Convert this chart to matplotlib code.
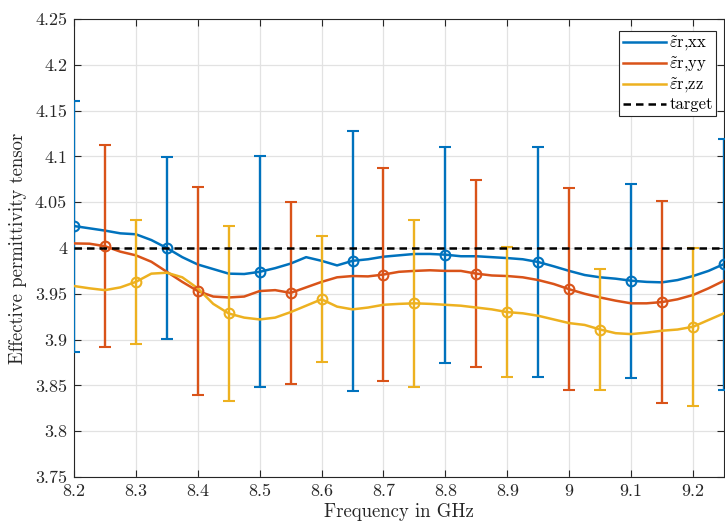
import numpy as np
import matplotlib
matplotlib.use("Agg")
import matplotlib.pyplot as plt
from matplotlib.ticker import FixedLocator, FixedFormatter

plt.rcParams['font.family'] = 'serif'
plt.rcParams['font.serif'] = ['cmr10', 'DejaVu Serif']
plt.rcParams['mathtext.fontset'] = 'cm'
plt.rcParams['axes.formatter.use_mathtext'] = True

# ---- data ----
freq = [8.2, 8.225, 8.25, 8.275, 8.3, 8.325, 8.35, 8.375, 8.4, 8.425, 8.45, 8.475,
        8.5, 8.525, 8.55, 8.575, 8.6, 8.625, 8.65, 8.675, 8.7, 8.725, 8.75, 8.775,
        8.8, 8.825, 8.85, 8.875, 8.9, 8.925, 8.95, 8.975, 9.0, 9.025, 9.05, 9.075,
        9.1, 9.125, 9.15, 9.175, 9.2, 9.225, 9.25]

eps_xx = [4.024, 4.0215, 4.019, 4.016, 4.015, 4.0087, 4.000, 3.990, 3.982, 3.977,
          3.972, 3.9716, 3.974, 3.978, 3.983, 3.990, 3.986, 3.981, 3.986, 3.9877,
          3.9905, 3.992, 3.9935, 3.9935, 3.9927, 3.991, 3.991, 3.990, 3.989, 3.9877,
          3.9847, 3.980, 3.975, 3.9705, 3.968, 3.9665, 3.9643, 3.963, 3.9625, 3.965,
          3.9694, 3.975, 3.9825]
eps_yy = [4.005, 4.0047, 4.002, 3.996, 3.992, 3.985, 3.974, 3.963, 3.953, 3.947,
          3.946, 3.947, 3.953, 3.954, 3.951, 3.957, 3.963, 3.968, 3.9694, 3.969,
          3.971, 3.974, 3.975, 3.9757, 3.975, 3.975, 3.972, 3.970, 3.9694, 3.968,
          3.965, 3.9607, 3.955, 3.950, 3.946, 3.9425, 3.9396, 3.9396, 3.941, 3.944,
          3.9487, 3.956, 3.9643]
eps_zz = [3.9585, 3.956, 3.954, 3.957, 3.963, 3.972, 3.973, 3.968, 3.956, 3.939,
          3.9285, 3.924, 3.922, 3.924, 3.930, 3.937, 3.944, 3.936, 3.933, 3.935,
          3.938, 3.939, 3.9396, 3.939, 3.938, 3.937, 3.935, 3.933, 3.930, 3.9287,
          3.926, 3.922, 3.918, 3.916, 3.911, 3.907, 3.906, 3.9076, 3.9097, 3.911,
          3.914, 3.9214, 3.9287]

xx_err_f = [8.2, 8.35, 8.5, 8.65, 8.8, 8.95, 9.1, 9.25]
xx_err = [0.137, 0.099, 0.126, 0.142, 0.118, 0.126, 0.106, 0.137]
yy_err_f = [8.25, 8.4, 8.55, 8.7, 8.85, 9.0, 9.15]
yy_err = [0.110, 0.114, 0.099, 0.116, 0.102, 0.110, 0.110]
zz_err_f = [8.3, 8.45, 8.6, 8.75, 8.9, 9.05, 9.2]
zz_err = [0.068, 0.096, 0.069, 0.091, 0.071, 0.066, 0.086]

target = 4.0

xticks = [8.2, 8.3, 8.4, 8.5, 8.6, 8.7, 8.8, 8.9, 9.0, 9.1, 9.2]
xticklabels = ['8.2', '8.3', '8.4', '8.5', '8.6', '8.7', '8.8', '8.9', '9', '9.1', '9.2']
yticks = [3.75, 3.8, 3.85, 3.9, 3.95, 4.0, 4.05, 4.1, 4.15, 4.2, 4.25]
yticklabels = ['3.75', '3.8', '3.85', '3.9', '3.95', '4', '4.05', '4.1', '4.15', '4.2', '4.25']

labels = [r'$\tilde{\varepsilon}$r,xx', r'$\tilde{\varepsilon}$r,yy', r'$\tilde{\varepsilon}$r,zz', 'target']
colors = ['#0072BD', '#D95319', '#EDB120']

# ---- plot ----
fig = plt.figure(figsize=(7.25, 5.28), dpi=100)
ax = fig.add_axes([0.102, 0.0966, 0.8966, 0.8674])

freq_a = np.array(freq)
series = [(eps_xx, xx_err_f, xx_err), (eps_yy, yy_err_f, yy_err), (eps_zz, zz_err_f, zz_err)]
handles = []
for (vals, ef, ee), c, lab in zip(series, colors, labels[:3]):
    vals = np.array(vals)
    h, = ax.plot(freq_a, vals, color=c, lw=1.8, label=lab, zorder=3)
    handles.append(h)
    idx = [int(np.argmin(np.abs(freq_a - f))) for f in ef]
    ax.errorbar(ef, vals[idx], yerr=ee, fmt='o', color=c, mfc='none', mec=c,
                ms=7, mew=1.5, elinewidth=1.7, capsize=4.5, capthick=1.7, zorder=3)

ht, = ax.plot([8.2, 9.25], [target, target], color='black', ls=(0, (3.0, 2.0)), lw=1.8,
              label='target', zorder=4)
handles.append(ht)

ax.set_xlim(8.2, 9.25)
ax.set_ylim(3.75, 4.25)
ax.xaxis.set_major_locator(FixedLocator(xticks))
ax.xaxis.set_major_formatter(FixedFormatter(xticklabels))
ax.yaxis.set_major_locator(FixedLocator(yticks))
ax.yaxis.set_major_formatter(FixedFormatter(yticklabels))

ax.grid(True, color='#e2e2e2', lw=0.9, zorder=0)
ax.set_axisbelow(True)
ax.tick_params(direction='in', length=5, width=0.8, colors='#262626', labelsize=13,
               top=True, right=True, pad=5)
for s in ax.spines.values():
    s.set_color('#262626')
    s.set_linewidth(0.8)

ax.set_xlabel('Frequency in GHz', fontsize=13.5, color='#262626', labelpad=3)
ax.set_ylabel('Effective permittivity tensor', fontsize=13.5, color='#262626', labelpad=6)

leg = ax.legend(handles=handles, labels=labels, loc='upper right', fontsize=12,
                frameon=True, fancybox=False, edgecolor='#262626', framealpha=1,
                handlelength=2.6, handletextpad=0.2, borderpad=0.2, labelspacing=0.12,
                borderaxespad=0.0, bbox_to_anchor=(0.988, 0.974))
leg.get_frame().set_linewidth(0.8)

fig.savefig('out.png', dpi=100)
